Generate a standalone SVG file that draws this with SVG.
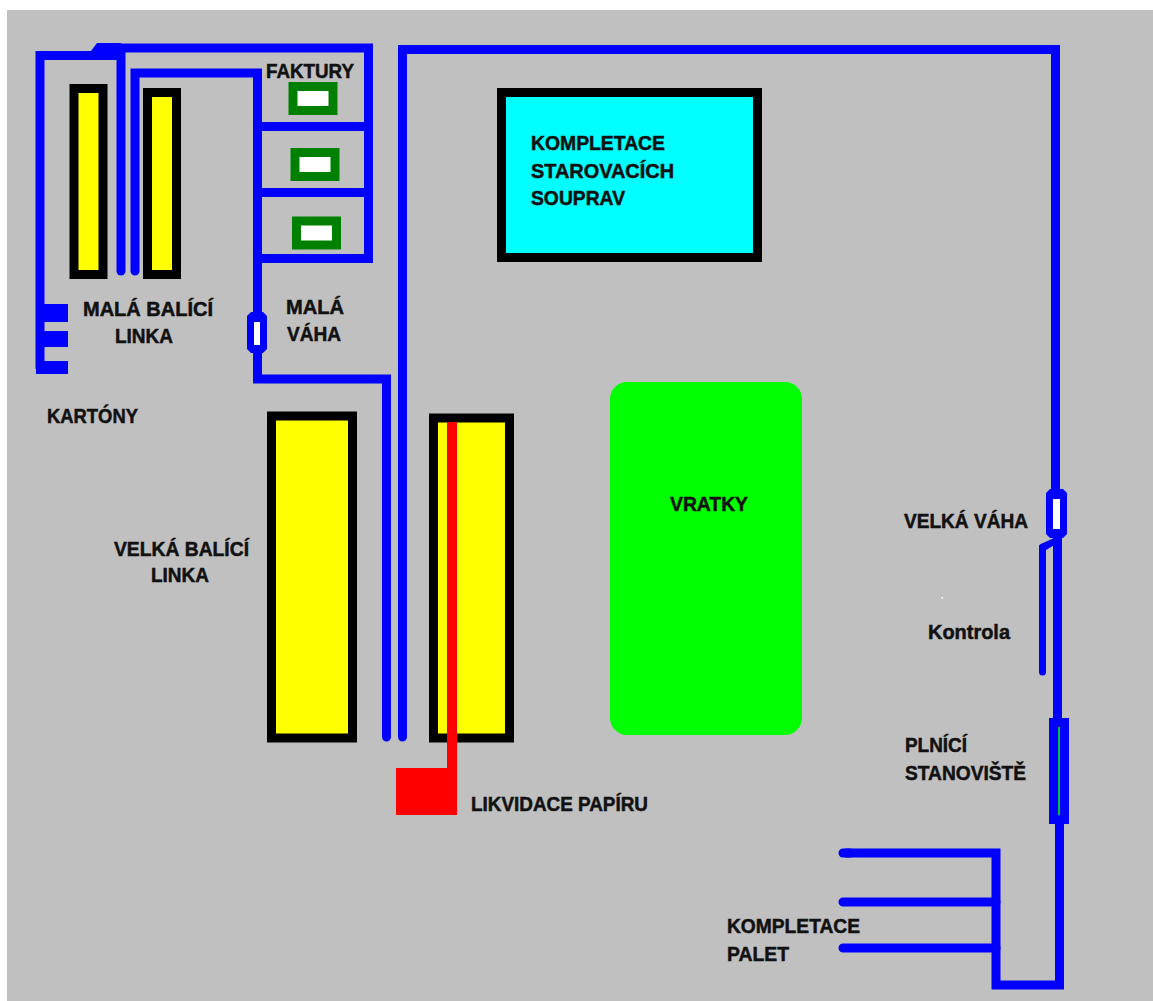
<svg xmlns="http://www.w3.org/2000/svg" width="1153" height="1001" viewBox="0 0 1153 1001">
<style>
.w{fill:none;stroke:#0000ff;stroke-width:9;stroke-linejoin:miter}
.r{stroke-linecap:round}
.k{stroke-width:7}
.b{fill:#0000ff}
.y{fill:#ffff00;stroke:#000;stroke-width:9}
.g{fill:#fff;stroke:#008000;stroke-width:9}
text{font-family:"Liberation Sans",Arial,sans-serif;font-weight:bold;font-size:20px;fill:#111;stroke:#111;stroke-width:.5}
</style>
<rect x="0" y="0" width="1153" height="1001" fill="#fff"/>
<rect x="7" y="10" width="1146" height="991" fill="#c0c0c0"/>
<rect x="941.500" y="597" width="1.500" height="1.500" fill="#fff"/>
<g id="malaLinka">
<rect class="y" x="74" y="88.500" width="29" height="186"/>
<rect class="y" x="147.500" y="92.500" width="29" height="182"/>
</g>
<g id="faktury1"><rect class="g" x="293" y="86.500" width="40" height="24"/></g>
<g id="faktury2"><rect class="g" x="295" y="152.500" width="40" height="24"/></g>
<g id="faktury3"><rect class="g" x="296.500" y="221" width="40" height="24"/></g>
<g id="velkaLinka">
<rect class="y" x="271.500" y="416" width="81" height="322"/>
<rect class="y" x="433.500" y="418" width="76" height="320"/>
</g>
<g id="kompletaceStart"><rect x="501.500" y="92.500" width="256" height="165" fill="#00ffff" stroke="#000" stroke-width="9"/></g>
<g id="vratky"><rect x="610" y="382" width="192" height="353" rx="17" fill="#00ff00"/></g>
<g id="likvidace"><path d="M447 422H457V815H396V768H447Z" fill="#ff0000"/></g>
<g id="connectors">
<path class="w" d="M40 369V55.500H93M97 48H368.500V258.500H257.500"/>
<path class="b" d="M91 51L97 43H121V60H91Z"/>
<path class="w r" d="M121 52V271"/>
<path class="w r" d="M135 271V73H257.500V379H386.500V737"/>
<path class="w" d="M257.500 126.500H368.500M257.500 192.500H368.500"/>
<path class="b" d="M36 304H68V322H40V331H68V347H40V361H68V374H36Z"/>
<path class="w r" d="M402.500 737V49.500H1055.500V490"/>
<path class="w k r" d="M1042.500 672V547"/>
<path class="b" d="M1039 546L1043 543L1054 538L1056 544L1046 550L1039 550Z"/>
<path class="w" d="M1057.500 536V718"/>
<path class="w" d="M1059.500 822V985H996V853H845"/>
<path class="w r" d="M843 853H850"/>
<path class="w r" d="M843 902H996M843 948H996"/>
</g>
<g id="malaVaha"><path class="b" d="M247 316L251 312H263L267 316V349L263 353H251L247 349Z"/><rect x="254" y="322" width="6" height="23" fill="#fff"/></g>
<g id="velkaVaha"><path class="b" d="M1046 493L1050 489H1063L1067 493V534L1063 538H1050L1046 534Z"/><rect x="1053" y="499" width="7" height="30" fill="#fff"/></g>
<g id="plniciStanoviste"><rect x="1049" y="718" width="20" height="106" fill="#0000ff"/><rect x="1058" y="727" width="2" height="88" fill="#00c040"/></g>
<g id="labels">
<text x="266" y="78" textLength="88" lengthAdjust="spacingAndGlyphs">FAKTURY</text>
<text x="83" y="316" textLength="130" lengthAdjust="spacingAndGlyphs">MALÁ BALÍCÍ</text>
<text x="115" y="343" textLength="58" lengthAdjust="spacingAndGlyphs">LINKA</text>
<text x="286" y="314" textLength="58" lengthAdjust="spacingAndGlyphs">MALÁ</text>
<text x="287" y="341" textLength="54" lengthAdjust="spacingAndGlyphs">VÁHA</text>
<text x="47" y="423" textLength="91" lengthAdjust="spacingAndGlyphs">KARTÓNY</text>
<text x="531" y="150" textLength="134" lengthAdjust="spacingAndGlyphs">KOMPLETACE</text>
<text x="531" y="178" textLength="143" lengthAdjust="spacingAndGlyphs">STAROVACÍCH</text>
<text x="531" y="205" textLength="94" lengthAdjust="spacingAndGlyphs">SOUPRAV</text>
<text x="670" y="511" textLength="78" lengthAdjust="spacingAndGlyphs">VRATKY</text>
<text x="114" y="556" textLength="135" lengthAdjust="spacingAndGlyphs">VELKÁ BALÍCÍ</text>
<text x="151" y="582" textLength="58" lengthAdjust="spacingAndGlyphs">LINKA</text>
<text x="904" y="528" textLength="124" lengthAdjust="spacingAndGlyphs">VELKÁ VÁHA</text>
<text x="928" y="639" textLength="82" lengthAdjust="spacingAndGlyphs">Kontrola</text>
<text x="905" y="752" textLength="62" lengthAdjust="spacingAndGlyphs">PLNÍCÍ</text>
<text x="905" y="780" textLength="121" lengthAdjust="spacingAndGlyphs">STANOVIŠTĚ</text>
<text x="471" y="811" textLength="177" lengthAdjust="spacingAndGlyphs">LIKVIDACE PAPÍRU</text>
<text x="727" y="933" textLength="133" lengthAdjust="spacingAndGlyphs">KOMPLETACE</text>
<text x="727" y="961" textLength="62" lengthAdjust="spacingAndGlyphs">PALET</text>
</g>
</svg>
